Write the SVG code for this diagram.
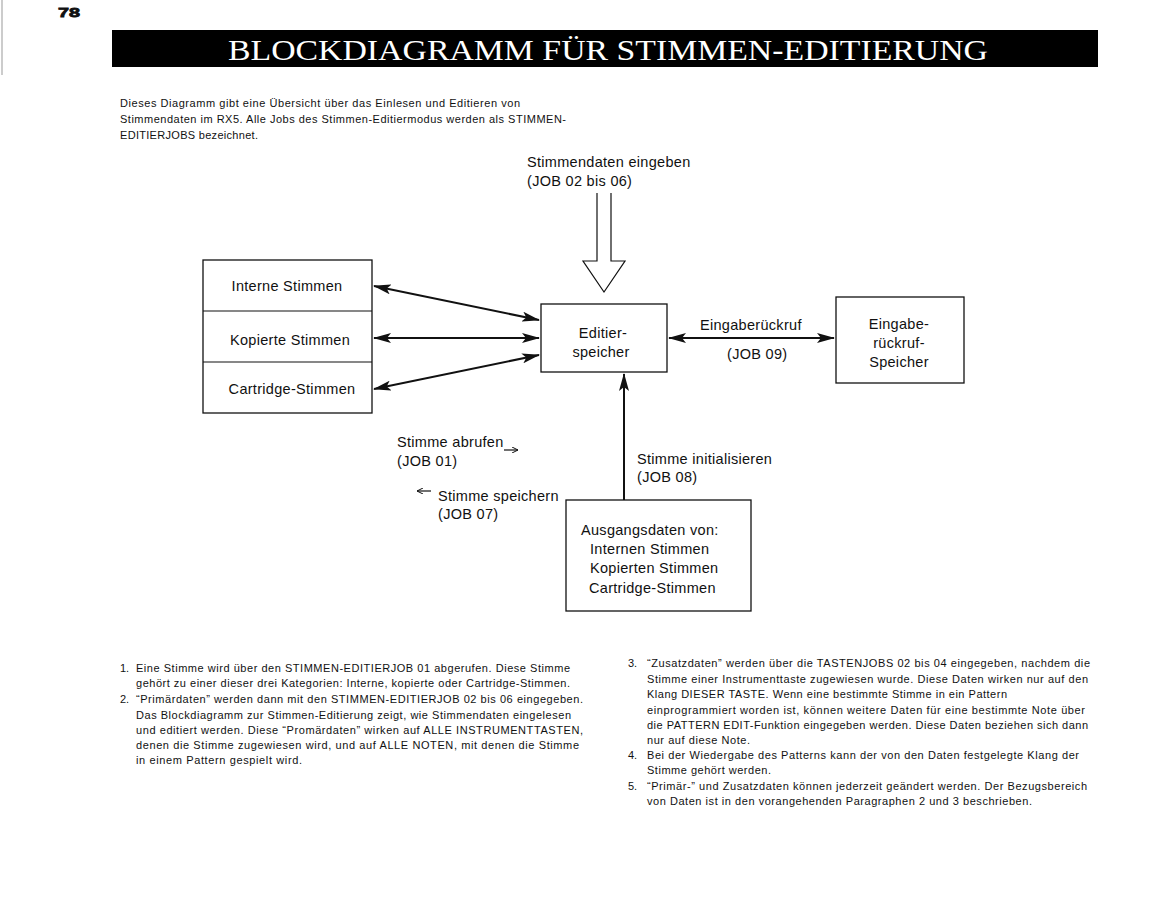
<svg xmlns="http://www.w3.org/2000/svg" width="1175" height="897" viewBox="0 0 1175 897">
<style>
.d{font-family:"Liberation Sans",Arial,sans-serif;font-size:14.5px;fill:#111;letter-spacing:0.3px}
.p{font-family:"Liberation Sans",Arial,sans-serif;font-size:11px;fill:#111}
.box{fill:#fff;stroke:#111;stroke-width:1.3}
.ln{fill:none;stroke:#111;stroke-width:2}
.thin{fill:none;stroke:#111;stroke-width:1.2}
</style>
<defs>
<marker id="ah" viewBox="0 0 18 10" refX="17" refY="5" markerWidth="18" markerHeight="10" markerUnits="userSpaceOnUse" orient="auto-start-reverse">
<path d="M0,0 L18,5 L0,10 L4,5 z" fill="#111"/>
</marker>
<marker id="sm" viewBox="0 0 6 6" refX="6" refY="3" markerWidth="6" markerHeight="6" markerUnits="userSpaceOnUse" orient="auto">
<path d="M0,0 L6,3 L0,6" fill="none" stroke="#111" stroke-width="1"/>
</marker>
</defs>
<rect width="1175" height="897" fill="#fff"/>
<line x1="2" y1="0" x2="2" y2="75" stroke="#999" stroke-width="1"/>
<text x="58" y="17" font-family="'Liberation Sans',Arial,sans-serif" font-size="13" font-weight="bold" fill="#111" stroke="#111" stroke-width="0.8" textLength="22" lengthAdjust="spacingAndGlyphs">78</text>
<g id="title">
<rect x="112" y="30" width="986" height="37" fill="#000"/>
<text x="228" y="60" font-family="'Liberation Serif','Times New Roman',serif" font-size="30" fill="#fff" textLength="760" lengthAdjust="spacingAndGlyphs">BLOCKDIAGRAMM FÜR STIMMEN-EDITIERUNG</text>
</g>
<g id="intro" class="p">
<text class="p" x="120" y="107" textLength="400">Dieses Diagramm gibt eine Übersicht über das Einlesen und Editieren von</text>
<text class="p" x="120" y="123" textLength="446">Stimmendaten im RX5. Alle Jobs des Stimmen-Editiermodus werden als STIMMEN-</text>
<text class="p" x="120" y="139" textLength="138">EDITIERJOBS bezeichnet.</text>
</g>
<g id="connectors">
<line class="ln" x1="374" y1="286" x2="539" y2="320" marker-start="url(#ah)" marker-end="url(#ah)"/>
<line class="ln" x1="374" y1="338" x2="539" y2="338" marker-start="url(#ah)" marker-end="url(#ah)"/>
<line class="ln" x1="374" y1="389" x2="539" y2="355" marker-start="url(#ah)" marker-end="url(#ah)"/>
<line class="ln" x1="669" y1="338" x2="834" y2="338" marker-start="url(#ah)" marker-end="url(#ah)"/>
<line class="ln" x1="624" y1="500" x2="624" y2="374" marker-end="url(#ah)"/>
<path class="thin" d="M597,193 L597,261 L583,261 L604,292 L625,261 L611,261 L611,193"/>
<path class="thin" d="M504,450 L518,450" marker-end="url(#sm)"/>
<path class="thin" d="M431,491 L417,491" marker-end="url(#sm)"/>
</g>
<g id="input-label">
<text class="d" x="527" y="167">Stimmendaten eingeben</text>
<text class="d" x="527" y="186">(JOB 02 bis 06)</text>
</g>
<g id="voices">
<rect class="box" x="203" y="260" width="169" height="153"/>
<line class="thin" x1="203" y1="311" x2="372" y2="311"/>
<line class="thin" x1="203" y1="362" x2="372" y2="362"/>
<text class="d" x="287" y="291" text-anchor="middle">Interne Stimmen</text>
<text class="d" x="290" y="345" text-anchor="middle">Kopierte Stimmen</text>
<text class="d" x="292" y="394" text-anchor="middle">Cartridge-Stimmen</text>
</g>
<g id="editspeicher">
<rect class="box" x="541" y="304" width="126" height="68"/>
<text class="d" x="603" y="338" text-anchor="middle">Editier-</text>
<text class="d" x="601" y="357" text-anchor="middle">speicher</text>
</g>
<g id="recall-label">
<text class="d" x="700" y="330">Eingaberückruf</text>
<text class="d" x="727" y="359">(JOB 09)</text>
</g>
<g id="recallspeicher">
<rect class="box" x="836" y="297" width="128" height="86"/>
<text class="d" x="899" y="329" text-anchor="middle">Eingabe-</text>
<text class="d" x="899" y="348" text-anchor="middle">rückruf-</text>
<text class="d" x="899" y="367" text-anchor="middle">Speicher</text>
</g>
<g id="job-labels">
<text class="d" x="397" y="447">Stimme abrufen</text>
<text class="d" x="397" y="466">(JOB 01)</text>
<text class="d" x="438" y="501">Stimme speichern</text>
<text class="d" x="438" y="519">(JOB 07)</text>
<text class="d" x="637" y="464">Stimme initialisieren</text>
<text class="d" x="637" y="482">(JOB 08)</text>
</g>
<g id="ausgangsdaten">
<rect class="box" x="566" y="500" width="185" height="111"/>
<text class="d" x="581" y="535">Ausgangsdaten von:</text>
<text class="d" x="590" y="554">Internen Stimmen</text>
<text class="d" x="590" y="573">Kopierten Stimmen</text>
<text class="d" x="589" y="593">Cartridge-Stimmen</text>
</g>
<g id="notes-left">
<text class="p" x="120" y="672">1.</text>
<text class="p" x="136" y="672" textLength="434">Eine Stimme wird über den STIMMEN-EDITIERJOB 01 abgerufen. Diese Stimme</text>
<text class="p" x="136" y="687" textLength="434">gehört zu einer dieser drei Kategorien: Interne, kopierte oder Cartridge-Stimmen.</text>
<text class="p" x="120" y="703">2.</text>
<text class="p" x="136" y="703" textLength="447">“Primärdaten” werden dann mit den STIMMEN-EDITIERJOB 02 bis 06 eingegeben.</text>
<text class="p" x="136" y="719" textLength="435">Das Blockdiagramm zur Stimmen-Editierung zeigt, wie Stimmendaten eingelesen</text>
<text class="p" x="136" y="734" textLength="447">und editiert werden. Diese “Promärdaten” wirken auf ALLE INSTRUMENTTASTEN,</text>
<text class="p" x="136" y="749" textLength="443">denen die Stimme zugewiesen wird, und auf ALLE NOTEN, mit denen die Stimme</text>
<text class="p" x="136" y="764" textLength="166">in einem Pattern gespielt wird.</text>
</g>
<g id="notes-right">
<text class="p" x="628" y="667">3.</text>
<text class="p" x="647" y="667" textLength="443">“Zusatzdaten” werden über die TASTENJOBS 02 bis 04 eingegeben, nachdem die</text>
<text class="p" x="647" y="683" textLength="441">Stimme einer Instrumenttaste zugewiesen wurde. Diese Daten wirken nur auf den</text>
<text class="p" x="647" y="698" textLength="360">Klang DIESER TASTE. Wenn eine bestimmte Stimme in ein Pattern</text>
<text class="p" x="647" y="714" textLength="438">einprogrammiert worden ist, können weitere Daten für eine bestimmte Note über</text>
<text class="p" x="647" y="729" textLength="441">die PATTERN EDIT-Funktion eingegeben werden. Diese Daten beziehen sich dann</text>
<text class="p" x="647" y="744" textLength="103">nur auf diese Note.</text>
<text class="p" x="628" y="759">4.</text>
<text class="p" x="647" y="759" textLength="432">Bei der Wiedergabe des Patterns kann der von den Daten festgelegte Klang der</text>
<text class="p" x="647" y="774" textLength="124">Stimme gehört werden.</text>
<text class="p" x="628" y="790">5.</text>
<text class="p" x="647" y="790" textLength="440">“Primär-” und Zusatzdaten können jederzeit geändert werden. Der Bezugsbereich</text>
<text class="p" x="647" y="805" textLength="385">von Daten ist in den vorangehenden Paragraphen 2 und 3 beschrieben.</text>
</g>
</svg>
